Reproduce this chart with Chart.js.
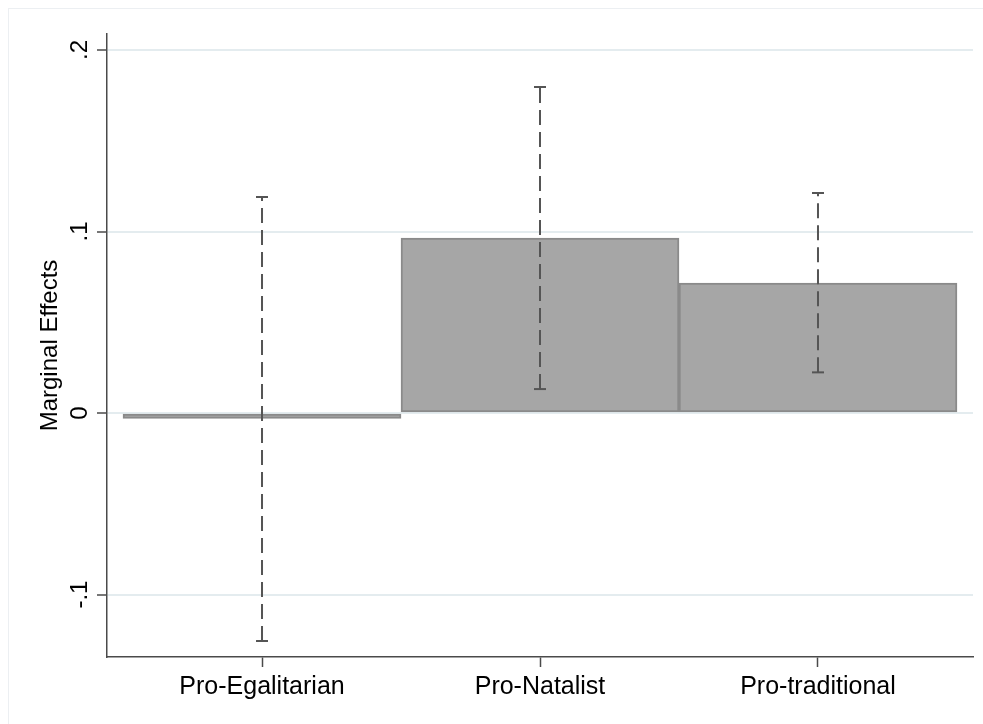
<!DOCTYPE html>
<html>
<head>
<meta charset="utf-8">
<script src="https://cdn.jsdelivr.net/npm/chart.js@4/dist/chart.umd.min.js"></script>
<style>
  html, body { margin: 0; padding: 0; background: #ffffff; }
  #wrap { width: 983px; height: 724px; }
</style>
</head>
<body>
<div id="wrap"><canvas id="c" width="983" height="724"></canvas></div>
<script>
// Marginal effects by attitude group, with 95% confidence intervals
const categories = ['Pro-Egalitarian', 'Pro-Natalist', 'Pro-traditional'];
const effects    = [-0.003, 0.0964, 0.0716];
const ciLower    = [-0.1256, 0.0132, 0.0224];
const ciUpper    = [0.1190, 0.1796, 0.1212];
const yTickValues = [-0.1, 0, 0.1, 0.2];
const yTickLabels = ['-.1', '0', '.1', '.2'];
const yTitle = 'Marginal Effects';

const FONT = '"Liberation Sans", Arial, sans-serif';
const AXIS_COLOR = '#4a4a4a';
const GRID_COLOR = '#e4ecef';

// bars at x = 1, 2, 3
const barData = effects.map((v, i) => ({ x: i + 1, y: v }));

// one dashed range line per category (drawn from lower bound to upper bound)
const ciDatasets = categories.map((c, i) => ({
  type: 'line',
  label: c + ' CI',
  data: [{ x: i + 1, y: ciLower[i] }, { x: i + 1, y: ciUpper[i] }],
  borderColor: '#555555',
  borderWidth: 2,
  borderDash: [15, 7],
  pointStyle: 'line',
  pointRadius: 6,
  pointBorderWidth: 2,
  pointBorderColor: '#555555',
  pointBackgroundColor: '#555555',
  fill: false,
  order: 0
}));

// rotated y tick labels, y title and the outer frame
const decorations = {
  id: 'decorations',
  beforeDraw(chart) {
    const ctx = chart.ctx;
    ctx.save();
    ctx.strokeStyle = '#eceff2';
    ctx.lineWidth = 1;
    ctx.strokeRect(8.5, 8.5, 1200, 1200);
    ctx.restore();
  },
  afterDraw(chart) {
    const ctx = chart.ctx;
    const y = chart.scales.y;
    ctx.save();
    ctx.fillStyle = '#000000';
    ctx.font = '24px ' + FONT;
    ctx.textAlign = 'center';
    ctx.textBaseline = 'alphabetic';
    yTickValues.forEach((v, i) => {
      const py = y.getPixelForValue(v);
      ctx.save();
      ctx.translate(87, py);
      ctx.rotate(-Math.PI / 2);
      ctx.fillText(yTickLabels[i], 0, 0);
      ctx.restore();
    });
    ctx.font = '24px ' + FONT;
    const cy = (chart.chartArea.top + chart.chartArea.bottom) / 2;
    ctx.translate(57, cy);
    ctx.rotate(-Math.PI / 2);
    ctx.fillText(yTitle, 0, 0);
    ctx.restore();
  }
};

new Chart(document.getElementById('c'), {
  type: 'bar',
  data: {
    datasets: [
      {
        label: 'Marginal effect',
        data: barData,
        backgroundColor: '#a6a6a6',
        borderColor: '#8a8a8a',
        borderWidth: 2,
        borderSkipped: false,
        categoryPercentage: 1,
        barPercentage: 1,
        order: 10
      },
      ...ciDatasets
    ]
  },
  options: {
    responsive: false,
    animation: false,
    events: [],
    layout: { padding: { top: 34, right: 10, left: 0, bottom: 0 } },
    plugins: {
      legend: { display: false },
      tooltip: { enabled: false },
      title: { display: false }
    },
    scales: {
      x: {
        type: 'linear',
        offset: false,
        min: 0.4424,
        max: 3.5576,
        afterBuildTicks(scale) {
          scale.ticks = categories.map((c, i) => ({ value: i + 1 }));
        },
        afterFit(scale) { scale.height = 67; },
        ticks: {
          callback: (v) => categories[Math.round(v) - 1] || '',
          font: { size: 25, family: FONT },
          color: '#000000',
          padding: 5,
          maxRotation: 0,
          minRotation: 0,
          autoSkip: false
        },
        grid: {
          offset: false,
          drawOnChartArea: false,
          drawTicks: true,
          tickLength: 10,
          tickColor: AXIS_COLOR,
          tickWidth: 1.5
        },
        border: { display: true, color: AXIS_COLOR, width: 1.5 }
      },
      y: {
        type: 'linear',
        min: -0.1344,
        max: 0.2088,
        afterBuildTicks(scale) {
          scale.ticks = yTickValues.map(v => ({ value: v }));
        },
        afterFit(scale) { scale.width = 107; },
        ticks: { display: false },
        grid: {
          color: GRID_COLOR,
          lineWidth: 2,
          drawTicks: true,
          tickLength: 10,
          tickColor: AXIS_COLOR,
          tickWidth: 1.5
        },
        border: { display: true, color: AXIS_COLOR, width: 1.5 }
      }
    }
  },
  plugins: [decorations]
});
</script>
</body>
</html>
